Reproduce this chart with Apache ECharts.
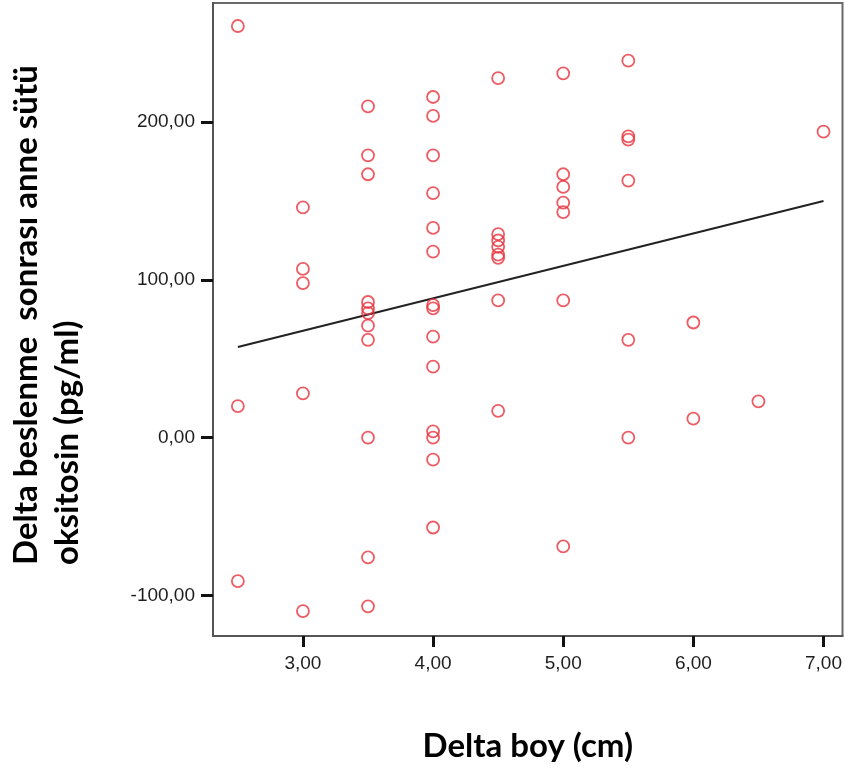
<!DOCTYPE html>
<html>
<head>
<meta charset="utf-8">
<script src="https://cdn.jsdelivr.net/npm/echarts@6/dist/echarts.min.js"></script>
<style>
html,body{margin:0;padding:0;background:#fff;}
#chart{width:845px;height:770px;}
</style>
</head>
<body>
<div id="chart"></div>
<script>
// Delta boy (cm)
const xValues = [
  2.5, 2.5, 2.5,
  3, 3, 3, 3, 3,
  3.5, 3.5, 3.5, 3.5, 3.5, 3.5, 3.5, 3.5, 3.5, 3.5, 3.5,
  4, 4, 4, 4, 4, 4, 4, 4, 4, 4, 4, 4, 4, 4,
  4.5, 4.5, 4.5, 4.5, 4.5, 4.5, 4.5, 4.5,
  5, 5, 5, 5, 5, 5, 5,
  5.5, 5.5, 5.5, 5.5, 5.5, 5.5,
  6, 6,
  6.5,
  7
];
// Delta beslenme sonrası anne sütü oksitosin (pg/ml)
const yValues = [
  261, 20, -91,
  146, 107, 98, 28, -110,
  210, 179, 167, 86, 82, 79, 71, 62, 0, -76, -107,
  216, 204, 179, 155, 133, 118, 84, 82, 64, 45, 4, 0, -14, -57,
  228, 129, 125, 121, 116, 114, 87, 17,
  231, 167, 159, 149, 143, 87, -69,
  239, 191, 189, 163, 62, 0,
  73, 12,
  23,
  194
];
// fit line end points
const fitX = [2.5, 7];
const fitY = [57.5, 150.1];
const xTicks = [3, 4, 5, 6, 7];
const yTicks = [-100, 0, 100, 200];
const xTitle = 'Delta boy (cm)';
const yTitleLines = ['Delta beslenme  sonrası anne sütü', 'oksitosin (pg/ml)'];

const points = xValues.map((x, i) => [x, yValues[i]]);
const fitData = fitX.map((x, i) => [x, fitY[i]]);
const fmt = v => v.toFixed(2).replace('.', ',');

const chart = echarts.init(document.getElementById('chart'), null, {renderer: 'canvas'});
chart.setOption({
  backgroundColor: '#fff',
  animation: false,
  grid: {
    left: 213, top: 3, right: 2, bottom: 134,
    show: true, borderColor: '#6a6a6a', borderWidth: 2, backgroundColor: '#fff'
  },
  xAxis: {
    type: 'value',
    min: 2.309, max: 7.146,
    name: xTitle,
    nameLocation: 'middle',
    nameGap: 94,
    nameTextStyle: {fontFamily: 'Lato', fontWeight: 'bold', fontSize: 33, color: '#000'},
    axisLine: {show: true, onZero: false, lineStyle: {color: '#555', width: 2}},
    axisTick: {show: true, length: 11, customValues: xTicks, lineStyle: {color: '#111', width: 3}},
    axisLabel: {customValues: xTicks, margin: 18, fontFamily: 'Liberation Sans', fontSize: 19, color: '#1e1e1e', formatter: fmt},
    splitLine: {show: false}
  },
  yAxis: {
    type: 'value',
    min: -125.8, max: 275.6,
    axisLine: {show: true, onZero: false, lineStyle: {color: '#555', width: 2}},
    axisTick: {show: true, length: 12, customValues: yTicks, lineStyle: {color: '#111', width: 3}},
    axisLabel: {customValues: yTicks, margin: 18, fontFamily: 'Liberation Sans', fontSize: 19, color: '#1e1e1e', formatter: fmt},
    splitLine: {show: false}
  },
  graphic: [
    {
      type: 'text', x: 26, y: 565, rotation: Math.PI / 2,
      style: {text: yTitleLines[0], font: 'bold 33px Lato', fill: '#000', align: 'left', verticalAlign: 'middle'}
    },
    {
      type: 'text', x: 67, y: 565, rotation: Math.PI / 2,
      style: {text: yTitleLines[1], font: 'bold 33px Lato', fill: '#000', align: 'left', verticalAlign: 'middle'}
    }
  ],
  series: [
    {
      type: 'scatter',
      data: points,
      symbol: 'circle',
      symbolSize: 12,
      itemStyle: {color: 'rgba(0,0,0,0)', borderColor: '#e8323c', borderWidth: 1.8},
      z: 3
    },
    {
      type: 'line',
      data: fitData,
      symbol: 'none',
      lineStyle: {color: '#222', width: 2},
      z: 2
    }
  ]
});
</script>
</body>
</html>
